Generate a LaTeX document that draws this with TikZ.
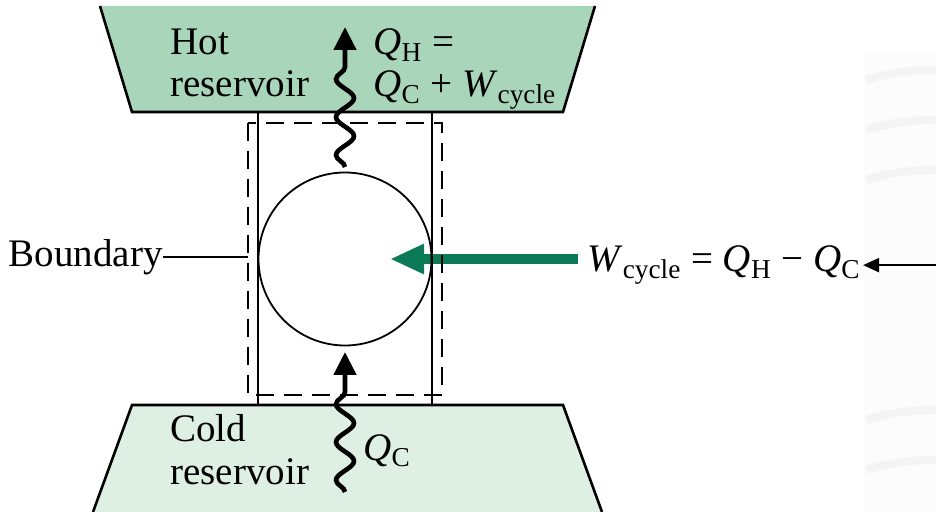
\documentclass[tikz,border=0pt]{standalone}
\usepackage{fontspec}
\setmainfont{Liberation Serif}
\usetikzlibrary{arrows.meta, decorations.pathmorphing, positioning}
\definecolor{Hot_Green}{HTML}{A9D6BB}
\definecolor{Cold_Green}{HTML}{DEEFE3}
\definecolor{Work_Green}{HTML}{0B7A57}
\definecolor{Mark_Grey}{HTML}{F4F4F4}
\definecolor{Mark_Back}{HTML}{FCFCFC}
\newcommand{\qsym}[1]{\textit{Q}\textsubscript{#1}}
\newcommand{\wcyc}{\textit{W}\textsubscript{cycle}}

\begin{document}
\begin{tikzpicture}[x=0.5pt, y=-0.5pt, font=\fontsize{19.5}{23}\selectfont,
    txt/.style={inner sep=0pt, anchor=base west},
    heat/.style={line width=2.3pt, decorate,
        decoration={snake, segment length=19pt, amplitude=4.5pt, post length=12pt},
        -{Triangle[length=11.5pt, width=11pt]}}]
    \useasboundingbox (0,0) rectangle (936,512);

    % Faint background marks on the right
    \fill[Mark_Back] (863,50) rectangle (936,512);
    \foreach \yy in {80,130,180,420,470}
        \draw[Mark_Grey, line width=4pt] (866,\yy) .. controls (890,\yy-8) and (915,\yy-10) .. (936,\yy-10);

    % Reservoirs
    \fill[Hot_Green] (100,6) -- (595,6) -- (563,112) -- (132,112) -- cycle;
    \draw[line width=1.3pt] (100,6) -- (132,112) -- (563,112) -- (595,6);
    \fill[Cold_Green] (132,405) -- (563,405) -- (602,512) -- (93,512) -- cycle;
    \draw[line width=1.3pt] (93,512) -- (132,405) -- (563,405) -- (602,512);

    % Work arrow (under the engine lines)
    \coordinate (w_in) at (578,259);
    \coordinate (w_tip) at (390,259);
    \draw[Work_Green, line width=5pt, -{Triangle[length=17pt, width=14pt]}] (w_in) -- (w_tip);

    % Engine and boundary
    \draw[line width=1pt] (258,112) rectangle (432,405);
    \draw[line width=1pt, dash pattern=on 9pt off 5pt] (248,123) rectangle (442,395);
    \node[circle, draw, line width=0.9pt, minimum size=86.5pt, inner sep=0pt] (engine) at (345,259) {};

    % Heat transfers
    \coordinate (qh_from) at (345,167);
    \coordinate (qh_to) at (345,27);
    \coordinate (qc_from) at (345,492);
    \coordinate (qc_to) at (345,352);
    \draw[heat] (qh_from) -- (qh_to);
    \draw[heat] (qc_from) -- (qc_to);

    % Labels
    \node[txt] (hot) at (170,55) {Hot};
    \node[txt] (hotres) at (170,97) {reservoir};
    \node[txt] (qh1) at (373,55) {\qsym{H} =};
    \node[txt] (qh2) at (373,97) {\qsym{C} + \wcyc};
    \node[txt] (cold) at (170,442) {Cold};
    \node[txt] (coldres) at (170,485) {reservoir};
    \node[txt] (qc) at (363,460) {\qsym{C}};
    \node[inner sep=0pt, anchor=east] (bnd) at (163,257) {Boundary};
    \node[txt] (wlab) at (587,272) {\wcyc{} = \qsym{H} − \qsym{C}};

    % Pointers
    \coordinate (bnd_pt) at (248,257);
    \draw[line width=0.8pt] (bnd.east) -- (bnd_pt);
    \coordinate (r_end) at (936,0);
    \draw[line width=1.1pt, -{Triangle[length=8pt, width=7pt]}] (r_end |- wlab.east) -- ([xshift=1pt]wlab.east);
\end{tikzpicture}
\end{document}
